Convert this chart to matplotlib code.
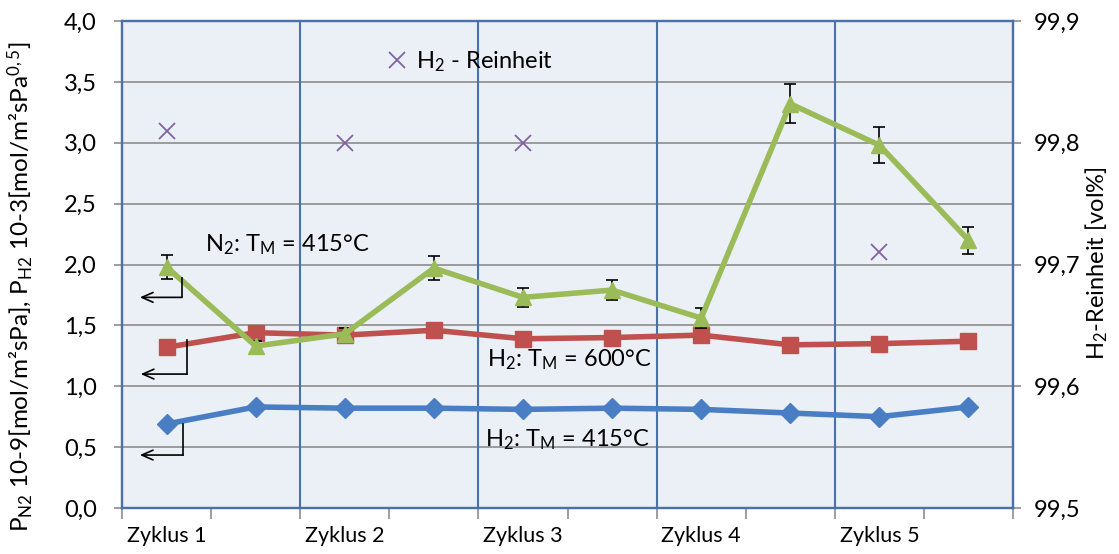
import matplotlib
matplotlib.use("Agg")
import matplotlib.pyplot as plt
import numpy as np

plt.rcParams['font.family'] = ['Lato', 'DejaVu Sans']
plt.rcParams['mathtext.fontset'] = 'custom'
plt.rcParams['mathtext.rm'] = 'Lato'
plt.rcParams['mathtext.it'] = 'Lato:italic'
plt.rcParams['mathtext.bf'] = 'Lato:bold'

cycle_labels = ["Zyklus 1", "Zyklus 2", "Zyklus 3", "Zyklus 4", "Zyklus 5"]
h2_415 = [0.69, 0.83, 0.82, 0.82, 0.81, 0.82, 0.81, 0.78, 0.75, 0.83]
h2_600 = [1.32, 1.44, 1.42, 1.46, 1.39, 1.40, 1.42, 1.34, 1.35, 1.37]
n2_415 = [1.98, 1.33, 1.43, 1.97, 1.73, 1.79, 1.56, 3.32, 2.98, 2.20]
n2_err = [0.10, 0.04, 0.05, 0.10, 0.08, 0.08, 0.08, 0.16, 0.15, 0.11]
purity = [99.81, np.nan, 99.80, np.nan, 99.80, np.nan, np.nan, np.nan, 99.71, np.nan]

W, H = 1119, 554
fig = plt.figure(figsize=(W/100, H/100), dpi=100)
ax = fig.add_axes([122/W, 1-508/H, (1013-122)/W, (508-21)/H])
ax2 = ax.twinx()

frame_col = '#4a72a8'
ax.set_facecolor('#ebf0f7')
ax2.patch.set_visible(False)

n = len(h2_415)
x = np.arange(n) + 0.5

ax.set_xlim(0, n)
ax.set_ylim(0, 4.0)
ax2.set_ylim(99.5, 99.9)

yt = np.arange(0, 4.01, 0.5)
ax.set_yticks(yt)
ax.set_yticklabels([f"{v:.1f}".replace('.', ',') for v in yt], fontsize=17)
for v in yt[1:-1]:
    ax.axhline(v, color='#8c8c8c', lw=1.2, zorder=1)
yt2 = np.arange(99.5, 99.91, 0.1)
ax2.set_yticks(yt2)
ax2.set_yticklabels([f"{v:.1f}".replace('.', ',') for v in yt2], fontsize=17)

ax.set_xticks(np.arange(0, n + 1))
ax.set_xticklabels([])
ax.set_xticks(np.arange(0, n, 2) + 0.5, minor=True)
ax.set_xticklabels(cycle_labels, minor=True, fontsize=15.5)
ax.tick_params(axis='x', which='minor', length=0, pad=13)
ax.tick_params(axis='x', which='major', length=8, color='#8c8c8c', width=1.2)
ax.tick_params(axis='y', length=6, color='#8c8c8c', width=1.2, pad=12)
ax2.tick_params(axis='y', length=6, color='#8c8c8c', width=1.2, pad=9)

for b in range(2, n, 2):
    ax.axvline(b, color=frame_col, lw=1.5, zorder=2)
for a in (ax, ax2):
    for s in a.spines.values():
        s.set_color(frame_col)
        s.set_linewidth(1.6)

ax.plot(x, h2_415, color='#4a7ec4', lw=4, marker='D', ms=10, zorder=5)
ax.plot(x, h2_600, color='#c0504d', lw=4, marker='s', ms=12, zorder=5)
ax.errorbar(x, n2_415, yerr=n2_err, color='#9bbb59', lw=4, marker='^', ms=12,
            ecolor='black', elinewidth=1.2, capsize=4, capthick=1.2, zorder=6)
ax2.plot(x, purity, ls='none', marker='x', ms=12, mew=1.3, color='#8064a2',
         label=r'H$_2$ - Reinheit')
ax2.legend(loc='center left', bbox_to_anchor=(0.285, 0.916), frameon=False,
           handlelength=0.8, handletextpad=0.4, fontsize=17, borderpad=0)

ax.text(0.93, 2.16, r'N$_2$: T$_\mathrm{M}$ = 415°C', fontsize=17, va='center', zorder=7)
ax.text(4.10, 1.22, r'H$_2$: T$_\mathrm{M}$ = 600°C', fontsize=17, va='center', zorder=7)
ax.text(4.07, 0.56, r'H$_2$: T$_\mathrm{M}$ = 415°C', fontsize=17, va='center', zorder=7)

arrows = [(0.673, 1.89, 1.73, 0.20), (0.73, 1.38, 1.10, 0.21), (0.685, 0.69, 0.435, 0.20)]
for xv, y0, y1, xe in arrows:
    ax.plot([xv, xv], [y0, y1], color='black', lw=1.2, zorder=7)
    ax.annotate('', xy=(xe, y1), xytext=(xv, y1),
                arrowprops=dict(arrowstyle='->,head_length=0.8,head_width=0.35',
                                color='black', lw=1.2, shrinkA=0, shrinkB=0), zorder=7)

fig.text(20/W, 1-287/H,
         r'P$_\mathrm{N2}$ 10-9[mol/m²sPa], P$_\mathrm{H2}$ 10-3[mol/m²sPa$^{0,5}$]',
         rotation=90, ha='center', va='center', fontsize=17.5)
fig.text(1097/W, 1-263/H, r'H$_2$-Reinheit [vol%]', rotation=90,
         ha='center', va='center', fontsize=17)

fig.savefig('out.png', dpi=100)
